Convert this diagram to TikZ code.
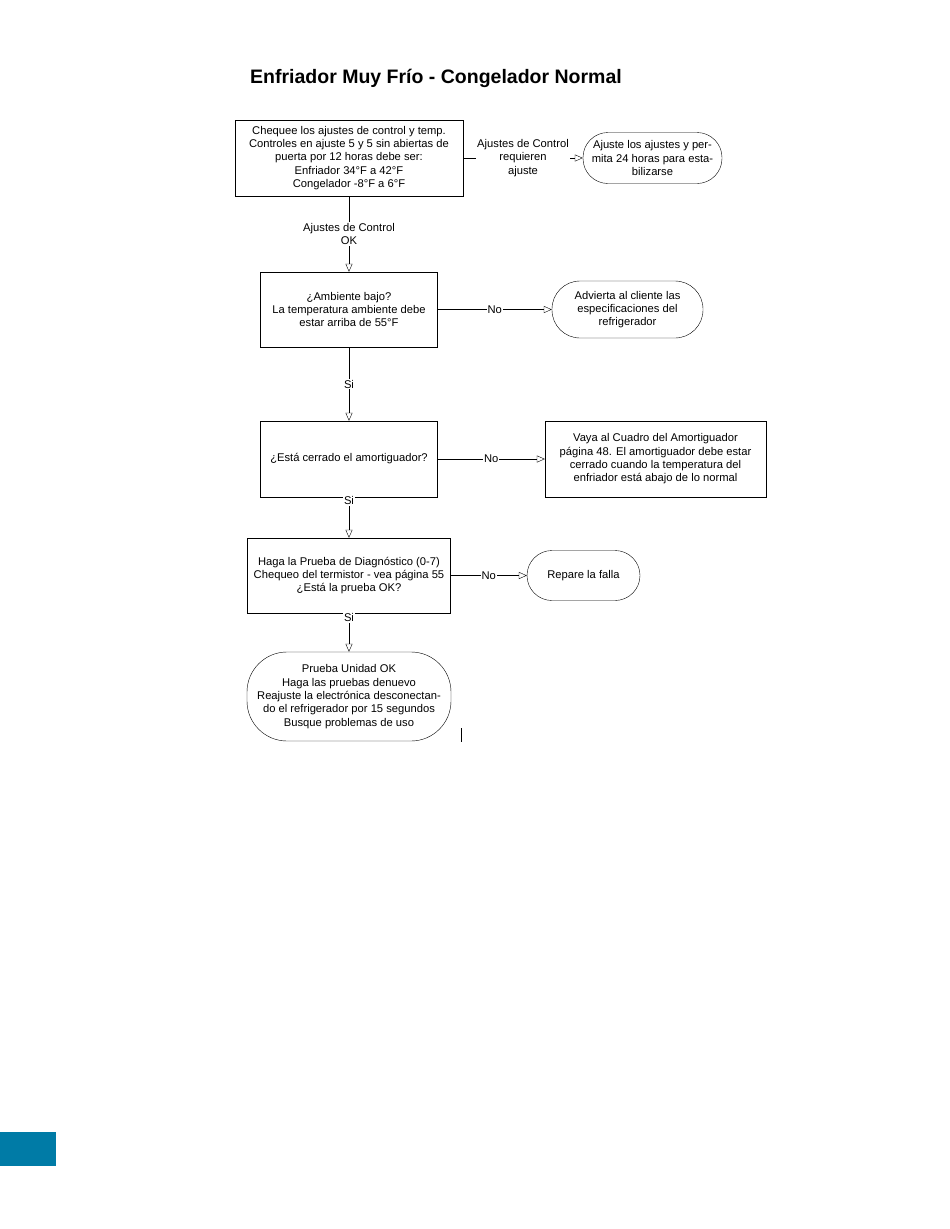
\documentclass[tikz,border=0pt]{standalone}
\usepackage{fontspec}
\setmainfont{Liberation Sans}
\usetikzlibrary{arrows.meta}
\definecolor{tabblue}{RGB}{0,123,166}

\begin{document}
\begin{tikzpicture}[x=1pt, y=-1pt,
  box/.style={draw, rectangle, inner sep=0pt, align=center, font=\fontsize{11.2}{13.3}\selectfont},
  term/.style={box, rounded corners=#1},
  lbl/.style={fill=white, inner sep=1pt, align=center, font=\fontsize{11.2}{13.3}\selectfont},
  flow/.style={-{Triangle[open, length=8pt, width=7pt]}}]
\useasboundingbox (0,0) rectangle (950,1229);

\node[anchor=west, inner sep=0pt, font=\bfseries\fontsize{19.5}{23}\selectfont] (title) at (250,78) {Enfriador Muy Frío - Congelador Normal};

\node[box, minimum width=228pt, minimum height=76pt] (chequeo) at (349,158) {Chequee los ajustes de control y temp.\\Controles en ajuste 5 y 5 sin abiertas de\\puerta por 12 horas debe ser:\\Enfriador 34°F a 42°F\\Congelador -8°F a 6°F};
\node[term=25pt, minimum width=139pt, minimum height=51pt] (ajuste) at (652.5,158) {Ajuste los ajustes y per-\\mita 24 horas para esta-\\bilizarse};

\node[box, minimum width=177pt, minimum height=75pt] (ambiente) at (349,309.5) {¿Ambiente bajo?\\La temperatura ambiente debe\\estar arriba de 55°F};
\node[term=28pt, minimum width=151pt, minimum height=57pt] (advierta) at (627.5,309.5) {Advierta al cliente las\\especificaciones del\\refrigerador};

\node[box, minimum width=177pt, minimum height=76pt] (amortiguador) at (349,459) {¿Está cerrado el amortiguador?};
\node[box, minimum width=221pt, minimum height=76pt] (cuadro) at (655.5,459) {Vaya al Cuadro del Amortiguador\\página 48. El amortiguador debe estar\\cerrado cuando la temperatura del\\enfriador está abajo de lo normal};

\node[box, minimum width=203pt, minimum height=75pt] (diagnostico) at (349,575.5) {Haga la Prueba de Diagnóstico (0-7)\\Chequeo del termistor - vea página 55\\¿Está la prueba OK?};
\node[term=25pt, minimum width=113pt, minimum height=50pt] (repare) at (583.5,575.5) {Repare la falla};

\node[term=40pt, minimum width=204pt, minimum height=89pt] (unidad) at (349,696.5) {Prueba Unidad OK\\Haga las pruebas denuevo\\Reajuste la electrónica desconectan-\\do el refrigerador por 15 segundos\\Busque problemas de uso};

% connectors
\draw[flow] (chequeo) -- node[lbl]{Ajustes de Control\\requieren\\ajuste} (ajuste);
\draw[flow] (chequeo) -- node[lbl]{Ajustes de Control\\OK} (ambiente);
\draw[flow] (ambiente) -- node[lbl]{No} (advierta);
\draw[flow] (ambiente) -- node[lbl]{Si} (amortiguador);
\draw[flow] (amortiguador) -- node[lbl]{No} (cuadro);
\draw[flow] (amortiguador) -- node[lbl, pos=0.08]{Si} (diagnostico);
\draw[flow] (diagnostico) -- node[lbl]{No} (repare);
\draw[flow] (diagnostico) -- node[lbl, pos=0.12]{Si} (unidad);

\draw (461,728) -- (461,742);
\fill[tabblue] (0,1132) rectangle (56,1166);
\end{tikzpicture}
\end{document}
